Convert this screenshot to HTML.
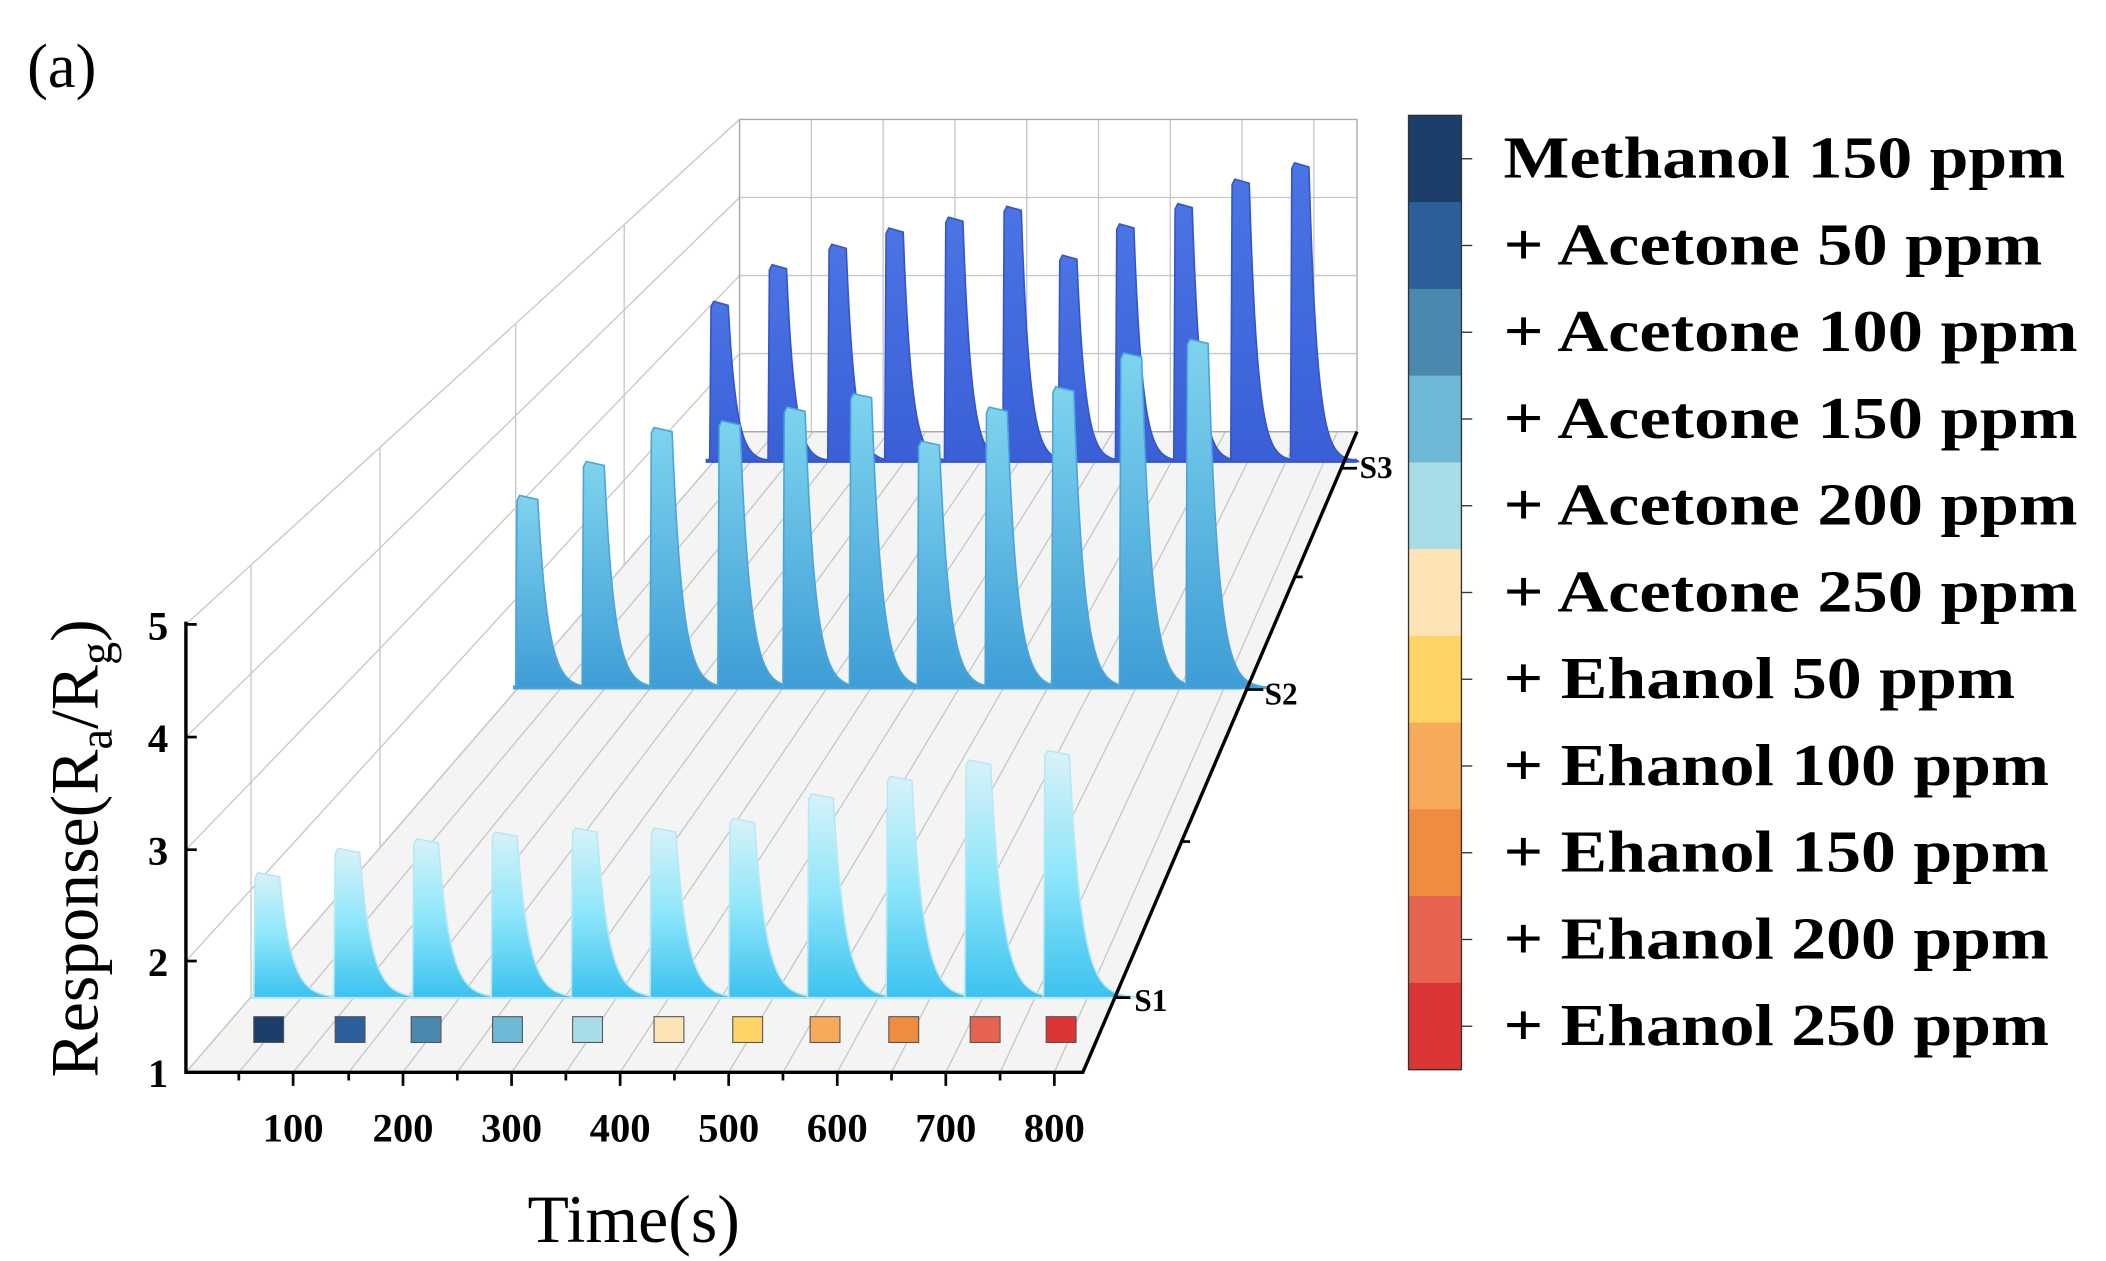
<!DOCTYPE html>
<html><head><meta charset="utf-8"><style>html,body{margin:0;padding:0;background:#fff;overflow:hidden}svg{display:block}</style></head>
<body>
<svg id="s" width="2106" height="1261" viewBox="0 0 1552 929" preserveAspectRatio="none" xmlns="http://www.w3.org/2000/svg" font-family="Liberation Serif, serif">
<defs>
<linearGradient id="g1" x1="0" y1="0" x2="0" y2="1"><stop offset="0" stop-color="#d8f2f8"/><stop offset="0.5" stop-color="#8ee6fa"/><stop offset="1" stop-color="#3cc2ef"/></linearGradient>
<linearGradient id="g2" x1="0" y1="0" x2="0" y2="1"><stop offset="0" stop-color="#7fd3ee"/><stop offset="1" stop-color="#3e9dd6"/></linearGradient>
<linearGradient id="g3" x1="0" y1="0" x2="0" y2="1"><stop offset="0" stop-color="#4b74e4"/><stop offset="1" stop-color="#3a5fd6"/></linearGradient>
</defs>
<text x="20" y="64" font-size="46">(a)</text>
<polygon points="137,790 798,790 1000,318 545,318" fill="#f4f4f4" stroke="#bbb" stroke-width="1"/>
<g id="grid" stroke="#c8c8c8" stroke-width="1" fill="none"></g>
<rect x="545" y="88" width="455" height="230" fill="none" stroke="#aaa" stroke-width="1"/>
<g id="series"></g>
<g id="sq" stroke="#555" stroke-width="0.8"></g>
<g stroke="#000" stroke-width="2.5" fill="none">
<line x1="137" y1="458" x2="137" y2="791"/>
<line x1="136" y1="790" x2="799" y2="790"/>
<line x1="798" y1="790" x2="1000" y2="318"/>
</g>
<g id="ticks" stroke="#000" stroke-width="2"></g>
<g font-weight="bold" font-size="30" text-anchor="end">
<text x="124" y="471">5</text><text x="124" y="554">4</text><text x="124" y="637">3</text><text x="124" y="719">2</text><text x="124" y="801">1</text>
</g>
<g font-weight="bold" font-size="30" text-anchor="middle">
<text x="216" y="841">100</text><text x="297" y="841">200</text><text x="377" y="841">300</text><text x="457" y="841">400</text><text x="537" y="841">500</text><text x="617" y="841">600</text><text x="697" y="841">700</text><text x="777" y="841">800</text>
</g>
<g font-weight="bold" font-size="23">
<text x="836" y="745">S1</text><text x="932" y="519">S2</text><text x="1002" y="352">S3</text>
</g>
<text x="467" y="915" font-size="50" text-anchor="middle">Time(s)</text>
<text transform="translate(72,625) rotate(-90)" font-size="50" text-anchor="middle">Response(R<tspan font-size="34" dy="10">a</tspan><tspan dy="-10">/R</tspan><tspan font-size="34" dy="10">g</tspan><tspan dy="-10">)</tspan></text>
<g id="cbar"></g>
</svg>
<script>
var NS="http://www.w3.org/2000/svg";
function el(p,t,a){var e=document.createElementNS(NS,t);for(var k in a)e.setAttribute(k,a[k]);p.appendChild(e);return e;}
var grid=document.getElementById('grid');
var fy=[460,543,626,708,790],by=[88,145.5,203,260.5,318];
for(var i=0;i<5;i++)el(grid,'line',{x1:137,y1:fy[i],x2:545,y2:by[i]});
el(grid,'line',{x1:545,y1:88,x2:545,y2:318});
[185,280,380,460].forEach(function(x){var t=(x-137)/408;el(grid,'line',{x1:x,y1:460-372*t,x2:x,y2:790-472*t});});
for(var i=1;i<9;i++){var x=545+i*455/8.6;el(grid,'line',{x1:x,y1:88,x2:x,y2:318});}
for(var i=1;i<4;i++)el(grid,'line',{x1:545,y1:by[i],x2:1000,y2:by[i]});
var fx=[176,216,257,297,337,377,417,457,497,537,577,617,657,697,737,777];
for(var i=0;i<fx.length;i++){var t=(fx[i]-137)/661;el(grid,'line',{x1:fx[i],y1:790,x2:545+455*t,y2:318});}
var ser=document.getElementById('series');
function series(b,starts,tops,w,fill,stroke,x0,x1){
  el(ser,'rect',{x:x0,y:b-2,width:x1-x0,height:3,fill:stroke});
  for(var i=0;i<starts.length;i++){
    var s=starts[i],t=tops[i],pts=[];
    pts.push([s-1,b]);pts.push([s,t+4]);pts.push([s+2,t]);pts.push([s+w*0.45,t+3]);
    var xs=s+w*0.45;
    for(var k=0;k<=w*1.3;k+=1){pts.push([xs+k,b-(b-t-3)*Math.exp(-k/(w*0.22))]);}
    pts.push([xs+w*1.3,b]);
    el(ser,'polygon',{points:pts.map(function(p){return p[0].toFixed(1)+','+p[1].toFixed(1)}).join(' '),fill:fill,stroke:stroke,'stroke-width':1.2});
  }
}
series(340,[524,567,611,653,697,740,781,823,866,908,952],[222,195,180,168,160,152,188,165,150,132,120],28,'url(#g3)','#3555cc',520,1000);
series(507,[381,430,480,530,578,627,677,727,776,826,875],[365,340,315,310,300,290,325,300,285,260,250],34,'url(#g2)','#4aa6da',378,915);
series(735,[188,247,305,363,422,480,538,596,654,712,770],[643,625,618,613,610,610,603,585,572,560,553],40,'url(#g1)','#b8e8f4',185,818);
var cols=['#1b3f6a','#2d609a','#4a88ad','#6db8d5','#a8dce6','#fde4b6','#fdd465','#f6aa5a','#ef8c3f','#e5634f','#db3535'];
var sqx=[198,258,314,374,433,493,551,608,666,726,782],sq=document.getElementById('sq');
for(var i=0;i<11;i++)el(sq,'rect',{x:sqx[i]-11,y:749,width:22,height:19,fill:cols[i]});
var tk=document.getElementById('ticks');
fy.forEach(function(y){el(tk,'line',{x1:137,y1:y,x2:145,y2:y});});
for(var i=0;i<16;i++){var x=fx[i];el(tk,'line',{x1:x,y1:790,x2:x,y2:i%2?800:796});}
[[821,735],[919,508],[988,345],[870,620],[953,425]].forEach(function(p,i){el(tk,'line',{x1:p[0],y1:p[1],x2:p[0]+(i<3?12:7),y2:p[1]});});
var cb=document.getElementById('cbar');
var labels=['Methanol 150 ppm','+ Acetone 50 ppm','+ Acetone 100 ppm','+ Acetone 150 ppm','+ Acetone 200 ppm','+ Acetone 250 ppm','+ Ehanol 50 ppm','+ Ehanol 100 ppm','+ Ehanol 150 ppm','+ Ehanol 200 ppm','+ Ehanol 250 ppm'];
var wl=[414,397,423,423,423,423,377,402,402,402,402];
var h=(788-85)/11;
for(var i=0;i<11;i++){
  var y=85+i*h;
  el(cb,'rect',{x:1038,y:y,width:39,height:h+0.5,fill:cols[i]});
  el(cb,'line',{x1:1077,y1:y+h/2,x2:1085,y2:y+h/2,stroke:'#333','stroke-width':1});
  var t=el(cb,'text',{x:1108,y:y+h/2+14,'font-size':44,'font-weight':'bold',textLength:wl[i],lengthAdjust:'spacingAndGlyphs'});t.textContent=labels[i];
}
el(cb,'rect',{x:1038,y:85,width:39,height:703,fill:'none',stroke:'#333','stroke-width':1});
</script>
</body></html>
